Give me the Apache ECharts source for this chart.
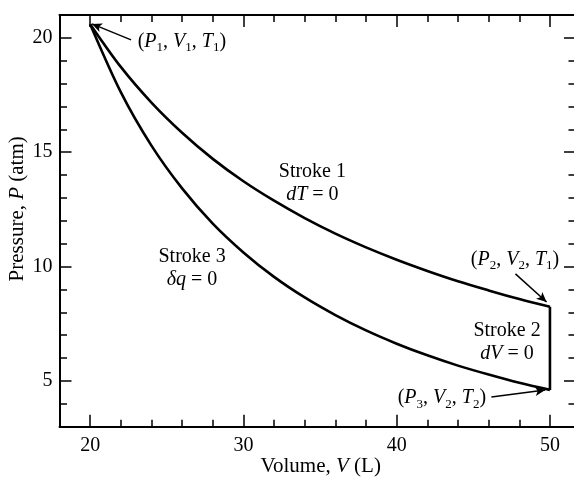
<!DOCTYPE html>
<html>
<head>
<meta charset="utf-8">
<script src="https://cdn.jsdelivr.net/npm/echarts@6/dist/echarts.min.js"></script>
<style>
html,body{margin:0;padding:0;background:#fff;}
#c{width:574px;height:477px;}
</style>
</head>
<body>
<div id="c"></div>
<script>
// ---- data ----
var volumes = [20, 22, 24, 26, 28, 30, 32, 34, 36, 38, 40, 42, 44, 46, 48, 50];
// Stroke 1: isothermal expansion (dT = 0)
var stroke1P = [20.6, 18.73, 17.17, 15.85, 14.71, 13.73, 12.88, 12.12, 11.44, 10.84, 10.3, 9.81, 9.36, 8.96, 8.58, 8.24];
// Stroke 3: adiabatic compression (dq = 0)
var stroke3P = [20.6, 17.63, 15.29, 13.42, 11.88, 10.62, 9.55, 8.65, 7.88, 7.21, 6.63, 6.12, 5.67, 5.28, 4.92, 4.61];
// Stroke 2: constant volume (dV = 0)
var stroke2V = [50, 50];
var stroke2P = [8.24, 4.61];

var xMajorTicks = [20, 30, 40, 50];
var yMajorTicks = [5, 10, 15, 20];

var FONT = 'Liberation Serif';
var INK = '#000';

function pairs(xs, ys) { return xs.map(function (x, i) { return [x, ys[i]]; }); }

function mkRich(size, sub) {
  return {
    n: { fontFamily: FONT, fontSize: size, color: INK, lineHeight: size + 3, textBorderWidth: 0, opacity: 1 },
    i: { fontFamily: FONT, fontSize: size, color: INK, fontStyle: 'italic', lineHeight: size + 3, textBorderWidth: 0, opacity: 1 },
    s: { fontFamily: FONT, fontSize: sub, color: INK, padding: [Math.round(size * 0.62), 0, 0, 0], textBorderWidth: 0, opacity: 1 }
  };
}
var richNote = mkRich(20, 13);
var richTitle = mkRich(21, 13);

// annotation texts (anchored in data coordinates)
var notes = [
  { value: [34.5, 13.65], text: '{n|Stroke 1}\n{i|dT}{n| = 0}', align: 'center' },
  { value: [26.65, 9.92], text: '{n|Stroke 3}\n{i|δq}{n| = 0}', align: 'center' },
  { value: [47.2, 6.7], text: '{n|Stroke 2}\n{i|dV}{n| = 0}', align: 'center' },
  { value: [23.1, 19.82], text: '{n|(}{i|P}{s|1}{n|, }{i|V}{s|1}{n|, }{i|T}{s|1}{n|)}', align: 'left' },
  { value: [47.72, 10.29], text: '{n|(}{i|P}{s|2}{n|, }{i|V}{s|2}{n|, }{i|T}{s|1}{n|)}', align: 'center' },
  { value: [42.95, 4.25], text: '{n|(}{i|P}{s|3}{n|, }{i|V}{s|2}{n|, }{i|T}{s|2}{n|)}', align: 'center' }
];
var arrows = [
  [[22.67, 19.91], [20.12, 20.61]],
  [[47.75, 9.68], [49.78, 8.45]],
  [[46.18, 4.30], [49.69, 4.60]]
];

var XMIN = 18, XMAX = 51.7, YMIN = 3, YMAX = 21;

function xAx(pos, major, labels) {
  return {
    type: 'value', position: pos, min: XMIN, max: XMAX, interval: 2,
    axisLine: { show: !major, onZero: false, lineStyle: { color: INK, width: 2 } },
    axisTick: major ? { show: true, inside: true, length: 12, customValues: xMajorTicks, lineStyle: { color: INK, width: 1.5 } }
                    : { show: true, inside: true, length: 7, lineStyle: { color: INK, width: 1.5 } },
    axisLabel: labels ? {
      show: true, margin: 9, color: INK, fontFamily: FONT, fontSize: 20,
      formatter: function (v) { return (v % 10 === 0) ? String(v) : ''; }
    } : { show: false },
    splitLine: { show: false }
  };
}
function yAx(pos, major, labels) {
  return {
    type: 'value', position: pos, min: YMIN, max: YMAX, interval: 1,
    axisLine: { show: !major, onZero: false, lineStyle: { color: INK, width: 2 } },
    axisTick: major ? { show: true, inside: true, length: 12, customValues: yMajorTicks, lineStyle: { color: INK, width: 1.5 } }
                    : { show: true, inside: true, length: 7.5, lineStyle: { color: INK, width: 1.5 } },
    axisLabel: labels ? {
      show: true, margin: 7, color: INK, fontFamily: FONT, fontSize: 20,
      formatter: function (v) { return (v % 5 === 0) ? String(v) : ''; }
    } : { show: false },
    splitLine: { show: false }
  };
}

var xAxes = [xAx('bottom', false, true), xAx('bottom', true, false), xAx('top', false, false), xAx('top', true, false)];
xAxes[0].name = '{n|Volume, }{i|V}{n| (L)}';
xAxes[0].nameLocation = 'middle';
xAxes[0].nameGap = 28;
xAxes[0].nameMoveOverlap = false;
xAxes[0].nameTextStyle = { rich: richTitle, padding: [0, 0, 0, 6], color: INK };

var yAxes = [yAx('left', false, true), yAx('left', true, false), yAx('right', false, false), yAx('right', true, false)];
yAxes[0].name = '{n|Pressure, }{i|P}{n| (atm)}';
yAxes[0].nameLocation = 'middle';
yAxes[0].nameGap = 30;
yAxes[0].nameMoveOverlap = false;
yAxes[0].nameTextStyle = { rich: richTitle, padding: [0, 0, 0, 24], color: INK };

var lineStyle = { color: INK, width: 2.6 };

var chart = echarts.init(document.getElementById('c'), null, { renderer: 'canvas' });
chart.setOption({
  backgroundColor: '#fff',
  animation: false,
  grid: { left: 59.5, right: -2, top: 15, bottom: 50.3, containLabel: false, outerBoundsMode: 'none' },
  xAxis: xAxes,
  yAxis: yAxes,
  series: [
    { name: 'Stroke 1', type: 'line', data: pairs(volumes, stroke1P), smooth: 0.3, showSymbol: false, lineStyle: lineStyle, z: 3 },
    { name: 'Stroke 2', type: 'line', data: pairs(stroke2V, stroke2P), showSymbol: false, lineStyle: lineStyle, z: 3 },
    { name: 'Stroke 3', type: 'line', data: pairs(volumes, stroke3P), smooth: 0.3, showSymbol: false, lineStyle: lineStyle, z: 3 },
    {
      name: 'notes', type: 'scatter', symbolSize: 0, silent: true, z: 5,
      itemStyle: { color: INK, opacity: 1 },
      data: notes.map(function (n) {
        return { value: n.value, label: { show: true, position: 'inside', align: n.align, verticalAlign: 'middle', formatter: n.text, rich: richNote, color: INK, opacity: 1, textBorderWidth: 0, textBorderColor: 'transparent', lineHeight: 23 } };
      }),
      markLine: {
        silent: true, symbol: ['none', 'arrow'], symbolSize: [7, 10],
        label: { show: false },
        lineStyle: { color: INK, width: 1.5, type: 'solid', opacity: 1 },
        data: arrows.map(function (a) { return [{ coord: a[0] }, { coord: a[1] }]; })
      }
    }
  ]
});
</script>
</body>
</html>
